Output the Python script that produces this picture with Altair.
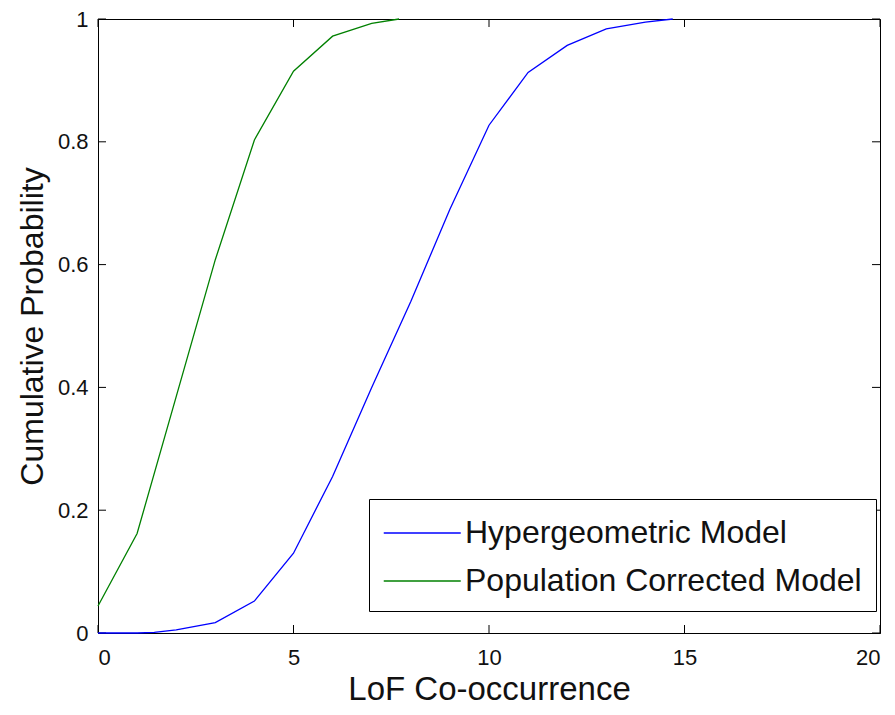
import altair as alt
import pandas as pd

# Hypergeometric Model (blue)
hyper_x = [0, 1, 1.44, 2, 3, 4, 5, 6, 7, 8, 9, 10, 11, 12, 13, 14, 14.7]
hyper_y = [0, 0, 0.001, 0.005, 0.017, 0.052, 0.13, 0.255, 0.40, 0.54, 0.69, 0.827, 0.913, 0.957, 0.984, 0.995, 1.0]

# Population Corrected Model (green)
pop_x = [0, 1, 2, 3, 4, 5, 6, 7, 7.7]
pop_y = [0.044, 0.162, 0.385, 0.608, 0.803, 0.915, 0.972, 0.993, 1.0]

series_names = ["Hypergeometric Model", "Population Corrected Model"]
series_colors = ["#0000ff", "#008000"]

x_ticks = [0, 5, 10, 15, 20]
y_ticks = [0, 0.2, 0.4, 0.6, 0.8, 1]

df = pd.concat([
    pd.DataFrame({"x": hyper_x, "y": hyper_y, "model": series_names[0], "order": range(len(hyper_x))}),
    pd.DataFrame({"x": pop_x, "y": pop_y, "model": series_names[1], "order": range(len(pop_x))}),
])
xt = pd.DataFrame({"t": x_ticks})
yt = pd.DataFrame({"t": y_ticks})

FONT = "Liberation Sans"
W, H = 782, 614
TL = 8  # tick length

xscale = alt.Scale(domain=[0, 20], nice=False)
yscale = alt.Scale(domain=[0, 1], nice=False)

lines = alt.Chart(df).mark_line(strokeWidth=1.3).encode(
    x=alt.X("x:Q", scale=xscale, axis=alt.Axis(
        orient="bottom", values=x_ticks, title="LoF Co-occurrence", grid=False,
        ticks=False, labelPadding=14, labelFontSize=22, titleFontSize=33,
        titleBaseline="alphabetic", titleY=66, format="d")),
    y=alt.Y("y:Q", scale=yscale, axis=alt.Axis(
        orient="left", values=y_ticks, title="Cumulative Probability", grid=False,
        ticks=False, labelPadding=10, labelFontSize=22, titleFontSize=32,
        titleBaseline="alphabetic", titleX=-56, format="~g")),
    color=alt.Color("model:N", scale=alt.Scale(domain=series_names, range=series_colors),
                    legend=alt.Legend(
                        title=None, orient="none", legendX=271, legendY=480,
                        strokeColor="black", fillColor="white", padding=14,
                        symbolType="M-1,0H3", symbolSize=38.5 * 38.5, symbolStrokeWidth=1.3,
                        labelFontSize=32, labelFont=FONT, labelColor="#111111",
                        labelOffset=42, rowPadding=12, labelLimit=0)),
    order="order:Q",
)

xb = alt.Chart(xt).mark_rule(color="black", strokeWidth=1).encode(
    x=alt.X("t:Q", scale=xscale), y=alt.value(H), y2=alt.value(H - TL))
xtop = alt.Chart(xt).mark_rule(color="black", strokeWidth=1).encode(
    x=alt.X("t:Q", scale=xscale), y=alt.value(0), y2=alt.value(TL))
yl = alt.Chart(yt).mark_rule(color="black", strokeWidth=1).encode(
    y=alt.Y("t:Q", scale=yscale), x=alt.value(0), x2=alt.value(TL))
yr = alt.Chart(yt).mark_rule(color="black", strokeWidth=1).encode(
    y=alt.Y("t:Q", scale=yscale), x=alt.value(W), x2=alt.value(W - TL))

chart = alt.layer(xb, xtop, yl, yr, lines).properties(
    width=W, height=H,
    autosize=alt.AutoSizeParams(type="none"),
    padding={"left": 90, "top": 11, "right": 7, "bottom": 74},
).configure_axis(
    domainColor="black", labelColor="#111111", titleColor="#111111",
    labelFont=FONT, titleFont=FONT, labelFontWeight="normal", titleFontWeight="normal",
    domainWidth=1,
).configure_view(stroke="black", strokeWidth=1)

chart.save("out.html", embed_options={"renderer": "svg", "actions": False})
